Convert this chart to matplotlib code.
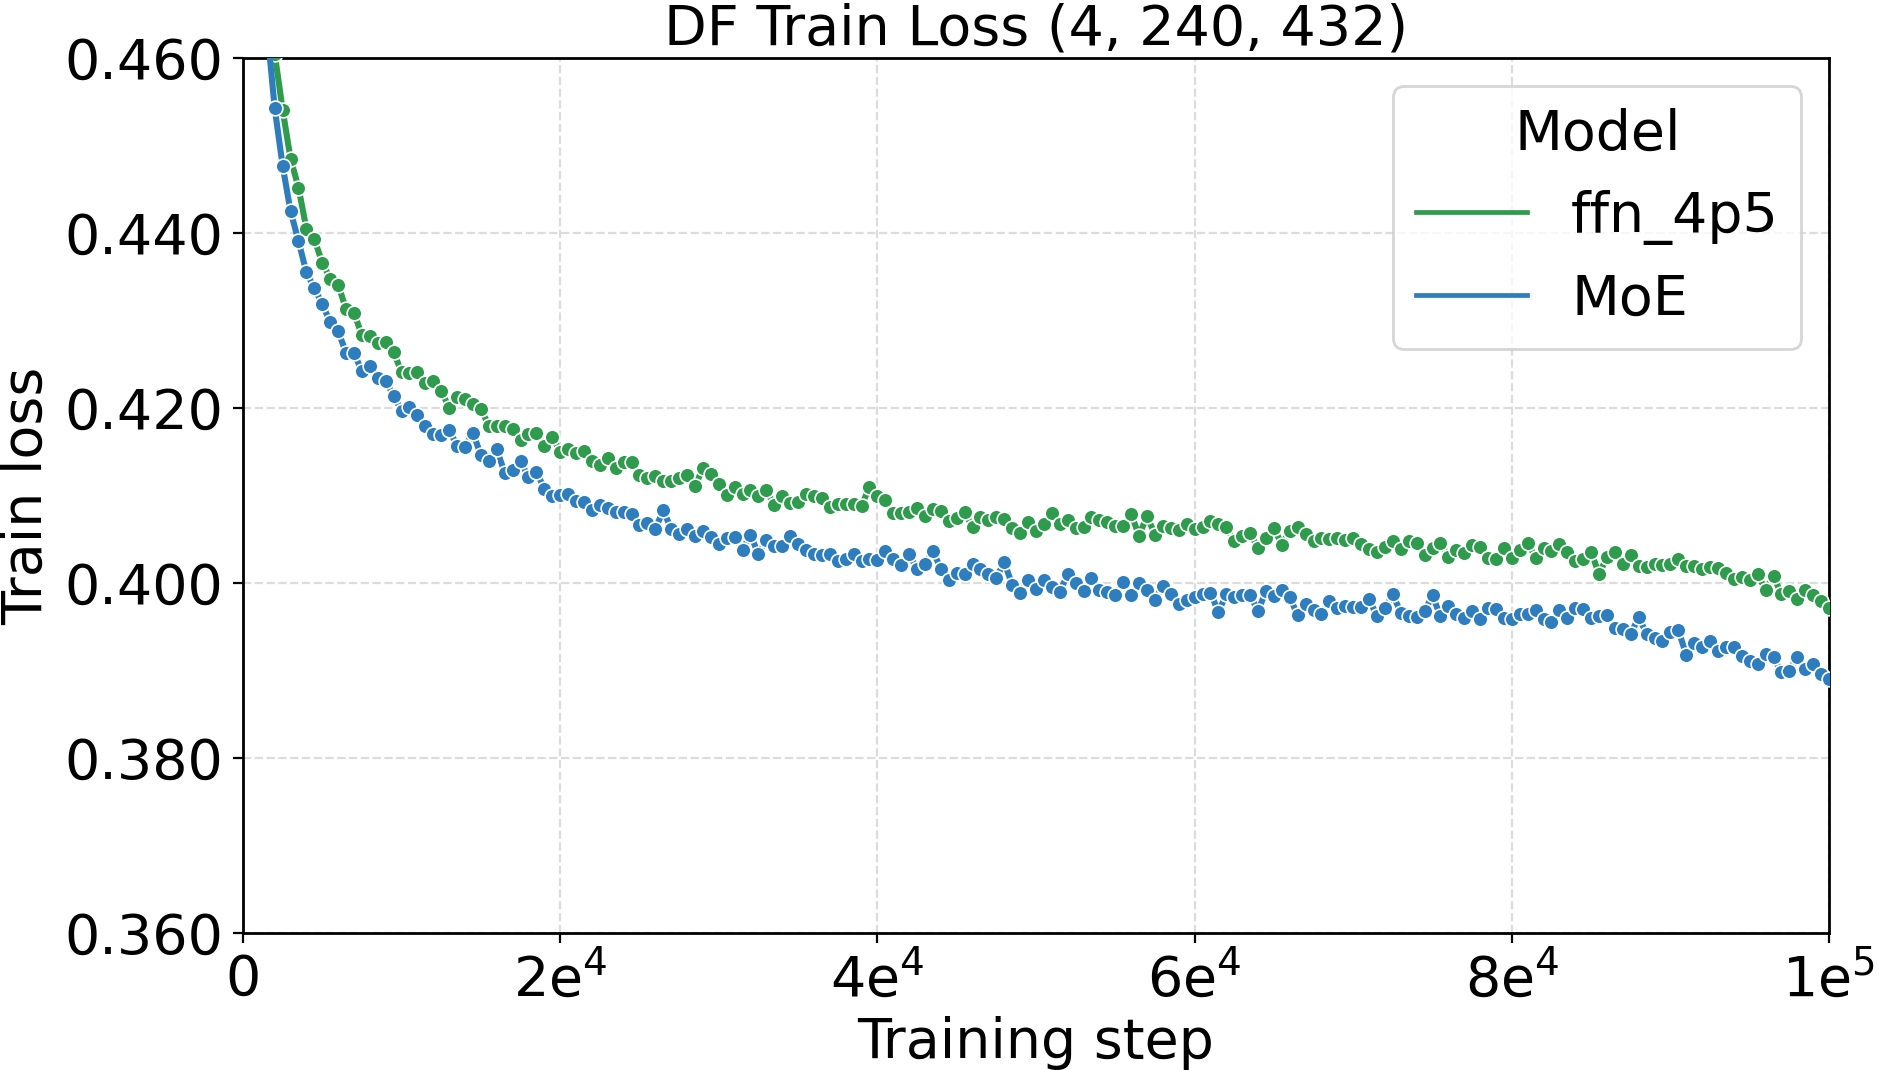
import numpy as np
import matplotlib.pyplot as plt
from matplotlib.lines import Line2D

# training steps, logged every 500 steps
steps = np.arange(500, 100001, 500)

ffn_4p5 = [
    0.530, 0.495, 0.472, 0.4605, 0.4541, 0.4485, 0.4452, 0.4405, 0.4393, 0.4366,
    0.4348, 0.4341, 0.4313, 0.4309, 0.4283, 0.4282, 0.4274, 0.4275, 0.4264, 0.4241,
    0.4240, 0.4241, 0.4229, 0.4231, 0.4220, 0.4200, 0.4213, 0.4210, 0.4205, 0.4199,
    0.4180, 0.4179, 0.4179, 0.4176, 0.4163, 0.4170, 0.4171, 0.4157, 0.4167, 0.4150,
    0.4153, 0.4149, 0.4151, 0.4140, 0.4135, 0.4143, 0.4131, 0.4138, 0.4138, 0.4124,
    0.4120, 0.4122, 0.4117, 0.4117, 0.4120, 0.4124, 0.4111, 0.4131, 0.4125, 0.4113,
    0.4101, 0.4110, 0.4102, 0.4106, 0.4099, 0.4106, 0.4089, 0.4100, 0.4091, 0.4093,
    0.4102, 0.4100, 0.4097, 0.4087, 0.4090, 0.4090, 0.4090, 0.4088, 0.4110, 0.4100,
    0.4095, 0.4080, 0.4080, 0.4081, 0.4086, 0.4077, 0.4085, 0.4082, 0.4071, 0.4074,
    0.4081, 0.4064, 0.4075, 0.4072, 0.4076, 0.4073, 0.4063, 0.4057, 0.4070, 0.4060,
    0.4068, 0.4080, 0.4067, 0.4072, 0.4063, 0.4064, 0.4075, 0.4072, 0.4070, 0.4065,
    0.4065, 0.4079, 0.4054, 0.4077, 0.4055, 0.4065, 0.4063, 0.4061, 0.4067, 0.4062,
    0.4064, 0.4071, 0.4068, 0.4064, 0.4048, 0.4054, 0.4057, 0.4040, 0.4051, 0.4063,
    0.4044, 0.4060, 0.4064, 0.4056, 0.4048, 0.4051, 0.4050, 0.4052, 0.4049, 0.4052,
    0.4045, 0.4039, 0.4036, 0.4041, 0.4048, 0.4039, 0.4048, 0.4046, 0.4032, 0.4040,
    0.4046, 0.4030, 0.4038, 0.4034, 0.4043, 0.4041, 0.4029, 0.4027, 0.4040, 0.4029,
    0.4038, 0.4046, 0.4029, 0.4040, 0.4037, 0.4045, 0.4035, 0.4025, 0.4027, 0.4036,
    0.4010, 0.4030, 0.4036, 0.4022, 0.4032, 0.4020, 0.4018, 0.4022, 0.4021, 0.4022,
    0.4027, 0.4020, 0.4020, 0.4016, 0.4018, 0.4017, 0.4012, 0.4005, 0.4007, 0.4003,
    0.4010, 0.3992, 0.4008, 0.3987, 0.3991, 0.3982, 0.3992, 0.3986, 0.3980, 0.3972,
]

moe = [
    0.520, 0.487, 0.4638, 0.4543, 0.4477, 0.4425, 0.4391, 0.4355, 0.4337, 0.4319,
    0.4298, 0.4288, 0.4263, 0.4263, 0.4242, 0.4248, 0.4234, 0.4231, 0.4214, 0.4197,
    0.4201, 0.4192, 0.4179, 0.4170, 0.4169, 0.4175, 0.4157, 0.4156, 0.4172, 0.4146,
    0.4140, 0.4153, 0.4126, 0.4129, 0.4139, 0.4121, 0.4127, 0.4108, 0.4100, 0.4101,
    0.4102, 0.4094, 0.4093, 0.4084, 0.4089, 0.4086, 0.4081, 0.4081, 0.4079, 0.4066,
    0.4069, 0.4062, 0.4083, 0.4062, 0.4056, 0.4062, 0.4054, 0.4059, 0.4053, 0.4045,
    0.4051, 0.4053, 0.4038, 0.4055, 0.4033, 0.4049, 0.4042, 0.4042, 0.4054, 0.4045,
    0.4038, 0.4033, 0.4032, 0.4033, 0.4025, 0.4028, 0.4033, 0.4025, 0.4028, 0.4026,
    0.4037, 0.4027, 0.4021, 0.4033, 0.4016, 0.4022, 0.4037, 0.4016, 0.4003, 0.4012,
    0.4010, 0.4022, 0.4016, 0.4010, 0.4006, 0.4024, 0.3998, 0.3989, 0.4003, 0.3993,
    0.4003, 0.3995, 0.3990, 0.4010, 0.4000, 0.3991, 0.4006, 0.3992, 0.3990, 0.3986,
    0.4001, 0.3986, 0.4000, 0.3992, 0.3981, 0.3997, 0.3987, 0.3976, 0.3981, 0.3984,
    0.3988, 0.3989, 0.3967, 0.3987, 0.3984, 0.3986, 0.3986, 0.3968, 0.3991, 0.3985,
    0.3992, 0.3984, 0.3963, 0.3976, 0.3969, 0.3965, 0.3979, 0.3972, 0.3974, 0.3973,
    0.3973, 0.3982, 0.3962, 0.3971, 0.3987, 0.3966, 0.3962, 0.3961, 0.3968, 0.3986,
    0.3962, 0.3974, 0.3965, 0.3960, 0.3968, 0.3959, 0.3972, 0.3970, 0.3960, 0.3959,
    0.3965, 0.3965, 0.3969, 0.3959, 0.3956, 0.3969, 0.3960, 0.3972, 0.3970, 0.3960,
    0.3962, 0.3963, 0.3949, 0.3947, 0.3942, 0.3961, 0.3942, 0.3937, 0.3934, 0.3944,
    0.3946, 0.3918, 0.3931, 0.3927, 0.3934, 0.3922, 0.3927, 0.3927, 0.3917, 0.3911,
    0.3908, 0.3919, 0.3915, 0.3898, 0.3900, 0.3916, 0.3902, 0.3908, 0.3896, 0.3890,
]

xticks = [0, 20000, 40000, 60000, 80000, 100000]
xticklabels = ['0', '2e$^4$', '4e$^4$', '6e$^4$', '8e$^4$', '1e$^5$']
yticks = [0.36, 0.38, 0.40, 0.42, 0.44, 0.46]

green = '#2f9b4d'
blue = '#2e7ebf'

plt.rcParams['font.size'] = 20

fig = plt.figure(figsize=(9.395, 5.35), dpi=200)
ax = fig.add_axes([0.1293, 0.128, 0.8441, 0.8178])

ax.plot(steps, ffn_4p5, color=green, lw=2.2, marker='o', ms=5.3,
        mec='white', mew=0.6, zorder=3)
ax.plot(steps, moe, color=blue, lw=2.2, marker='o', ms=5.3,
        mec='white', mew=0.6, zorder=4)

ax.set_xlim(0, 100000)
ax.set_ylim(0.36, 0.46)
ax.set_xticks(xticks)
ax.set_xticklabels(xticklabels)
ax.set_yticks(yticks)
ax.set_yticklabels(['%.3f' % v for v in yticks])
ax.grid(True, ls='--', color='#dcdcdc', lw=0.8, zorder=0)
for s in ax.spines.values():
    s.set_linewidth(1.0)
    s.set_color('black')

ax.set_xlabel('Training step', labelpad=3)
ax.set_ylabel('Train loss', labelpad=4)
ax.set_title('DF Train Loss (4, 240, 432)', fontsize=20, pad=5)

handles = [Line2D([], [], color=green, lw=1.7),
           Line2D([], [], color=blue, lw=1.7)]
leg = ax.legend(handles, ['ffn_4p5', 'MoE'], title='Model',
                loc='upper right', handlelength=2.0)
leg.get_title().set_fontsize(20)

fig.savefig('out.png', dpi=200)
